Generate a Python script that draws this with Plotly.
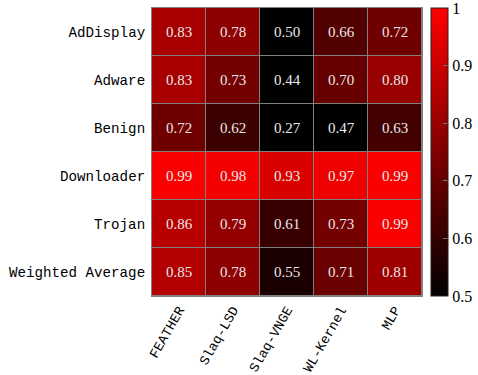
import plotly.graph_objects as go

# Per-class scores of each method
methods = ["FEATHER", "Slaq-LSD", "Slaq-VNGE", "WL-Kernel", "MLP"]
classes = ["AdDisplay", "Adware", "Benign", "Downloader", "Trojan", "Weighted Average"]
scores_addisplay = [0.83, 0.78, 0.50, 0.66, 0.72]
scores_adware = [0.83, 0.73, 0.44, 0.70, 0.80]
scores_benign = [0.72, 0.62, 0.27, 0.47, 0.63]
scores_downloader = [0.99, 0.98, 0.93, 0.97, 0.99]
scores_trojan = [0.86, 0.79, 0.61, 0.73, 0.99]
scores_weighted = [0.85, 0.78, 0.55, 0.71, 0.81]
cbar_ticks = [0.5, 0.6, 0.7, 0.8, 0.9, 0.9999]
cbar_labels = ["0.5", "0.6", "0.7", "0.8", "0.9", "1"]

z = [scores_addisplay, scores_adware, scores_benign,
     scores_downloader, scores_trojan, scores_weighted]

mono = "Liberation Mono"
serif = "Liberation Serif"

# plot area spans 152..478 px horizontally; heatmap gets the left part
area_w = 478 - 152
heat_right = 422 - 152
cbar_left = 431 - 152

fig = go.Figure(go.Heatmap(
    z=z, x=methods, y=classes,
    zmin=0.5, zmax=1.0,
    colorscale=[[0, "#000000"], [1, "#ff0000"]],
    xgap=1, ygap=1,
    texttemplate="%{z:.2f}",
    textfont=dict(family=serif, size=15, color="#e8e8e8"),
    colorbar=dict(
        x=cbar_left / area_w, xanchor="left", xpad=0,
        y=0.5, yanchor="middle", len=1.0, lenmode="fraction", ypad=0,
        thickness=17, outlinewidth=1, outlinecolor="#222222",
        tickvals=cbar_ticks, ticktext=cbar_labels,
        ticks="inside", ticklen=5, tickcolor="#777777",
        ticklabeloverflow="allow",
        tickfont=dict(family=serif, size=16, color="#000000"),
    ),
))

fig.update_xaxes(
    domain=[0, heat_right / area_w],
    tickangle=-60, tickfont=dict(family=mono, size=13.5, color="#000000"),
    showline=True, linecolor="#808080", linewidth=1, mirror=True,
    ticks="", showgrid=False,
)
fig.update_yaxes(
    autorange="reversed", tickfont=dict(family=mono, size=14.2, color="#000000"),
    showline=True, linecolor="#808080", linewidth=1, mirror=True,
    ticks="", showgrid=False, ticklabelstandoff=3,
)
fig.update_layout(
    width=478, height=375,
    margin=dict(l=152, r=0, t=8, b=79, autoexpand=False),
    plot_bgcolor="#808080", paper_bgcolor="#ffffff",
)
fig.write_html("out.html")
